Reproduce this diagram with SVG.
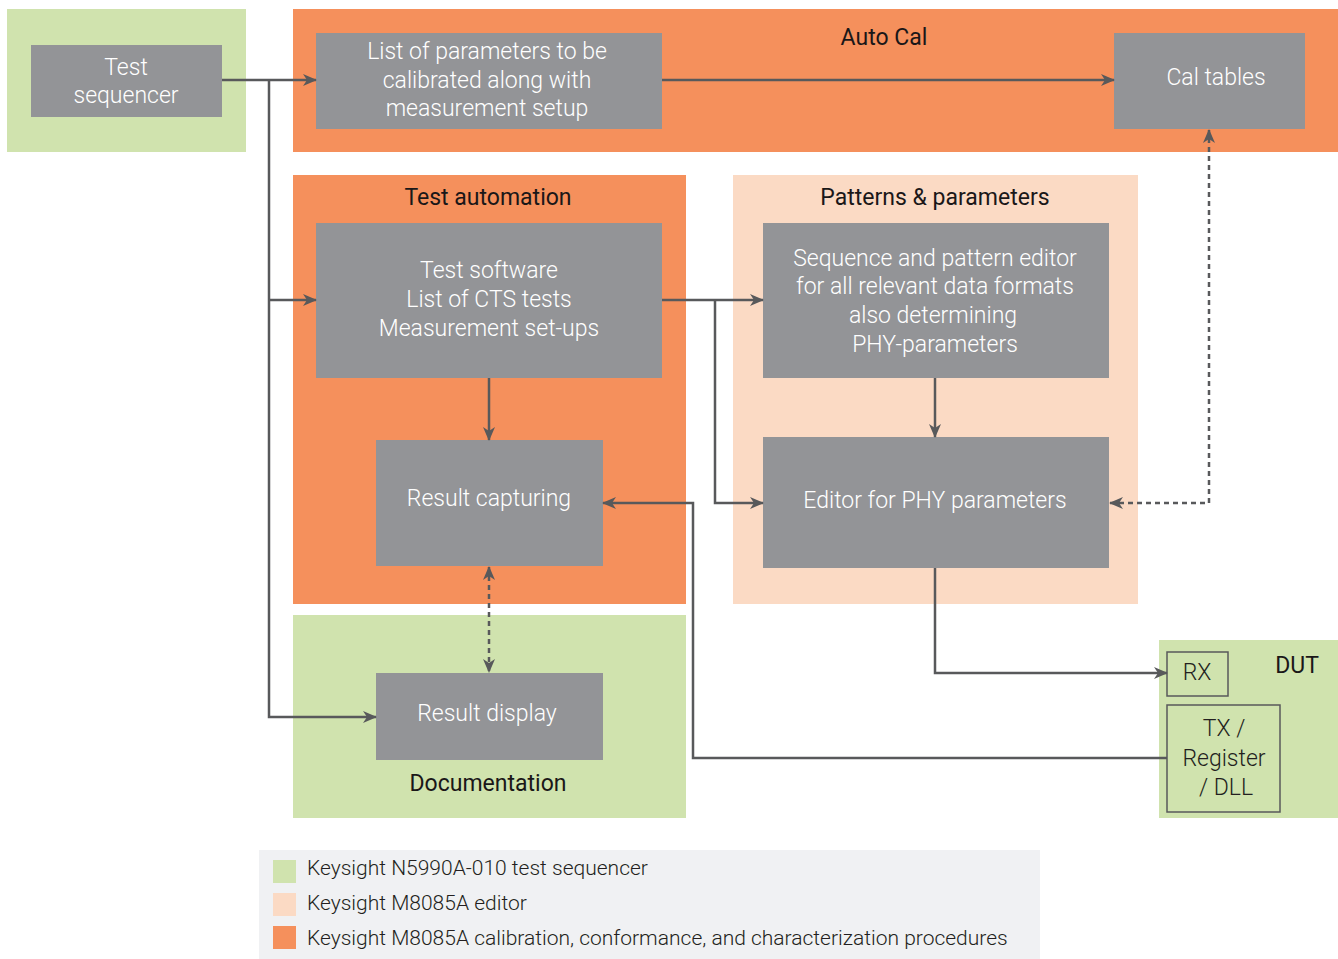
<svg xmlns="http://www.w3.org/2000/svg" width="1338" height="959" viewBox="0 0 1338 959">
<style>
.green{fill:#d0e3ae}
.orange{fill:#f5905c}
.peach{fill:#fbdac4}
.box{fill:#939497}
.bt{font-family:Roboto,"Liberation Sans",sans-serif;font-weight:300;font-size:23px;fill:#ffffff;text-anchor:middle;dominant-baseline:central}
.title{font-family:Roboto,"Liberation Sans",sans-serif;font-weight:400;font-size:23px;fill:#1a1718;text-anchor:middle;dominant-baseline:central}
.dt{font-family:Roboto,"Liberation Sans",sans-serif;font-weight:300;font-size:23px;fill:#231f20;text-anchor:middle;dominant-baseline:central}
.lt{font-family:Roboto,"Liberation Sans",sans-serif;font-weight:300;font-size:21px;fill:#231f20;dominant-baseline:central}
.ln{fill:none;stroke:#58595b;stroke-width:2.5}
.dash{stroke-dasharray:5 4}
.sub{fill:none;stroke:#58595b;stroke-width:1.5}
</style>
<defs>
<marker id="ah" markerUnits="userSpaceOnUse" markerWidth="14" markerHeight="12" refX="13" refY="6" orient="auto-start-reverse" viewBox="0 0 14 12">
<path d="M0,0 L14,6 L0,12 L4,6 z" fill="#58595b"/>
</marker>
</defs>

<g id="bg-sequencer"><rect class="green" x="7" y="9" width="239" height="143"/></g>
<g id="auto-cal"><rect class="orange" x="293" y="9" width="1045" height="143"/><text class="title" x="884" y="37">Auto Cal</text></g>
<g id="test-automation"><rect class="orange" x="293" y="175" width="393" height="429"/><text class="title" x="488" y="197">Test automation</text></g>
<g id="patterns"><rect class="peach" x="733" y="175" width="405" height="429"/><text class="title" x="935" y="197">Patterns &amp; parameters</text></g>
<g id="documentation"><rect class="green" x="293" y="615" width="393" height="203"/><text class="title" x="488" y="783">Documentation</text></g>
<g id="dut"><rect class="green" x="1159" y="640" width="179" height="178"/><text class="title" x="1297" y="665">DUT</text></g>

<g id="test-sequencer"><rect class="box" x="31" y="45" width="191" height="72"/><text class="bt" x="126" y="67">Test</text><text class="bt" x="126" y="95">sequencer</text></g>
<g id="param-list"><rect class="box" x="316" y="33" width="346" height="96"/><text class="bt" x="487" y="51">List of parameters to be</text><text class="bt" x="487" y="80">calibrated along with</text><text class="bt" x="487" y="108">measurement setup</text></g>
<g id="cal-tables"><rect class="box" x="1114" y="33" width="191" height="96"/><text class="bt" x="1216" y="77">Cal tables</text></g>
<g id="test-software"><rect class="box" x="316" y="223" width="346" height="155"/><text class="bt" x="489" y="270">Test software</text><text class="bt" x="489" y="299">List of CTS tests</text><text class="bt" x="489" y="328">Measurement set-ups</text></g>
<g id="sequence-editor"><rect class="box" x="763" y="223" width="346" height="155"/><text class="bt" x="935" y="258">Sequence and pattern editor</text><text class="bt" x="935" y="286">for all relevant data formats</text><text class="bt" x="933" y="315">also determining</text><text class="bt" x="935" y="344">PHY-parameters</text></g>
<g id="result-capturing"><rect class="box" x="376" y="440" width="227" height="126"/><text class="bt" x="489" y="498">Result capturing</text></g>
<g id="phy-editor"><rect class="box" x="763" y="437" width="346" height="131"/><text class="bt" x="935" y="500">Editor for PHY parameters</text></g>
<g id="result-display"><rect class="box" x="376" y="673" width="227" height="87"/><text class="bt" x="487" y="713">Result display</text></g>
<g id="rx"><rect class="sub" x="1167" y="652" width="61" height="44"/><text class="dt" x="1197" y="672">RX</text></g>
<g id="tx"><rect class="sub" x="1167" y="705" width="113" height="107"/><text class="dt" x="1224" y="728">TX /</text><text class="dt" x="1224" y="758">Register</text><text class="dt" x="1226" y="787">/ DLL</text></g>

<g id="connectors">
<path class="ln" d="M222,80 L316,80" marker-end="url(#ah)"/>
<path class="ln" d="M269,80 L269,717 L376,717" marker-end="url(#ah)"/>
<path class="ln" d="M269,300 L316,300" marker-end="url(#ah)"/>
<path class="ln" d="M662,80 L1114,80" marker-end="url(#ah)"/>
<path class="ln" d="M662,300 L763,300" marker-end="url(#ah)"/>
<path class="ln" d="M715,300 L715,503 L763,503" marker-end="url(#ah)"/>
<path class="ln" d="M489,378 L489,440" marker-end="url(#ah)"/>
<path class="ln" d="M935,378 L935,437" marker-end="url(#ah)"/>
<path class="ln dash" d="M489,567 L489,672" marker-start="url(#ah)" marker-end="url(#ah)"/>
<path class="ln dash" d="M1110,503 L1209,503 L1209,130" marker-start="url(#ah)" marker-end="url(#ah)"/>
<path class="ln" d="M935,568 L935,673 L1167,673" marker-end="url(#ah)"/>
<path class="ln" d="M1167,758 L693,758 L693,503 L603,503" marker-end="url(#ah)"/>
</g>

<g id="legend">
<rect x="259" y="850" width="781" height="109" fill="#f0f1f3"/>
<rect class="green" x="273" y="860" width="23" height="23"/>
<rect class="peach" x="273" y="893" width="23" height="23"/>
<rect class="orange" x="273" y="926" width="23" height="23"/>
<text class="lt" x="307" y="868">Keysight N5990A-010 test sequencer</text>
<text class="lt" x="307" y="903">Keysight M8085A editor</text>
<text class="lt" x="307" y="938">Keysight M8085A calibration, conformance, and characterization procedures</text>
</g>
</svg>
